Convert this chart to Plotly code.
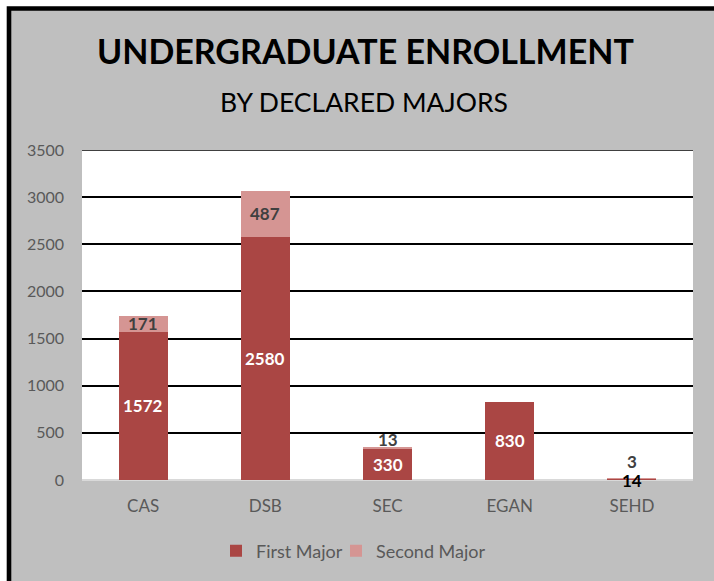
import plotly.graph_objects as go

categories = ["CAS", "DSB", "SEC", "EGAN", "SEHD"]
first_major = [1572, 2580, 330, 830, 14]
second_major = [171, 487, 13, 0, 3]
y_ticks = [0, 500, 1000, 1500, 2000, 2500, 3000, 3500]

FONT = "Lato"
DARK = "#AA4644"
LIGHT = "#D59593"
GRAY_TXT = "#595959"
BG = "#BFBFBF"

W, H = 714, 581
L, R, T, B = 82, 21, 150, 101
pw, ph = W - L - R, H - T - B


def px_x(x):
    return (x - L) / pw


def px_y(y):
    return (H - B - y) / ph


fig = go.Figure()
fig.add_trace(go.Bar(x=categories, y=first_major, name="First Major", legend="legend",
                     marker=dict(color=DARK, line=dict(width=0)), width=0.4))
fig.add_trace(go.Bar(x=categories, y=second_major, name="Second Major", legend="legend2",
                     marker=dict(color=LIGHT, line=dict(width=0)), width=0.4))

annotations = []
for c, f, s in zip(categories, first_major, second_major):
    small_first = f < 100
    annotations.append(dict(x=c, y=f / 2, text=str(f), showarrow=False,
                            xref="x", yref="y", xanchor="center", yanchor="middle",
                            font=dict(family=FONT, size=17,
                                      color="#000000" if small_first else "#FFFFFF",
                                      weight="bold"),
                            yshift=-1 if small_first else 0))
    if s > 0:
        if s >= 100:
            annotations.append(dict(x=c, y=f + s / 2, text=str(s), showarrow=False,
                                    xref="x", yref="y", xanchor="center", yanchor="middle",
                                    font=dict(family=FONT, size=17, color="#404040", weight="bold")))
        else:
            annotations.append(dict(x=c, y=f + s, text=str(s), showarrow=False,
                                    xref="x", yref="y", xanchor="center", yanchor="bottom",
                                    yshift=4 if small_first else -4,
                                    font=dict(family=FONT, size=17, color="#404040", weight="bold")))

annotations.append(dict(x=px_x(365), y=px_y(50), xref="paper", yref="paper",
                        xanchor="center", yanchor="middle",
                        text="<b>UNDERGRADUATE ENROLLMENT</b>", showarrow=False,
                        font=dict(family=FONT, size=34, color="#000000")))
annotations.append(dict(x=px_x(364), y=px_y(102), xref="paper", yref="paper",
                        xanchor="center", yanchor="middle",
                        text="BY DECLARED MAJORS", showarrow=False,
                        font=dict(family=FONT, size=26.5, color="#000000")))

shapes = [
    dict(type="rect", xref="paper", yref="paper", layer="below",
         x0=px_x(9), x1=px_x(740), y0=px_y(620), y1=px_y(8.5),
         fillcolor=BG, line=dict(color="#000000", width=4.6)),
    dict(type="rect", xref="paper", yref="paper", layer="below",
         x0=0, x1=1, y0=0, y1=1, fillcolor="#FFFFFF", line=dict(width=0)),
    dict(type="line", xref="paper", yref="y", layer="below",
         x0=0, x1=1, y0=y_ticks[-1], y1=y_ticks[-1],
         line=dict(color="#000000", width=1.6)),
]

legend_common = dict(orientation="h", xanchor="left", yanchor="middle",
                     y=px_y(551), bgcolor="rgba(0,0,0,0)",
                     font=dict(family=FONT, size=18, color=GRAY_TXT),
                     itemwidth=30)

fig.update_layout(
    width=W, height=H,
    margin=dict(l=L, r=R, t=T, b=B),
    barmode="stack",
    paper_bgcolor="#FFFFFF",
    plot_bgcolor="#FFFFFF",
    font=dict(family=FONT, size=16, color=GRAY_TXT),
    showlegend=True,
    legend=dict(x=px_x(216), **legend_common),
    legend2=dict(x=px_x(336), **legend_common),
    annotations=annotations,
    shapes=shapes,
    xaxis=dict(showgrid=False, showline=False, ticks="", tickfont=dict(size=17, color=GRAY_TXT),
               ticklabelstandoff=14),
    yaxis=dict(range=[0, 3500], tickvals=y_ticks, showgrid=True, gridcolor="#000000",
               gridwidth=1.6, zeroline=True, zerolinecolor="#D9D9D9", zerolinewidth=2,
               showline=False, ticks="", tickfont=dict(size=16, color=GRAY_TXT),
               ticklabelstandoff=17),
)

fig.write_html(
    "out.html",
    config={"displayModeBar": False},
    post_script="document.body.style.margin='0';document.body.style.overflow='hidden';",
)
